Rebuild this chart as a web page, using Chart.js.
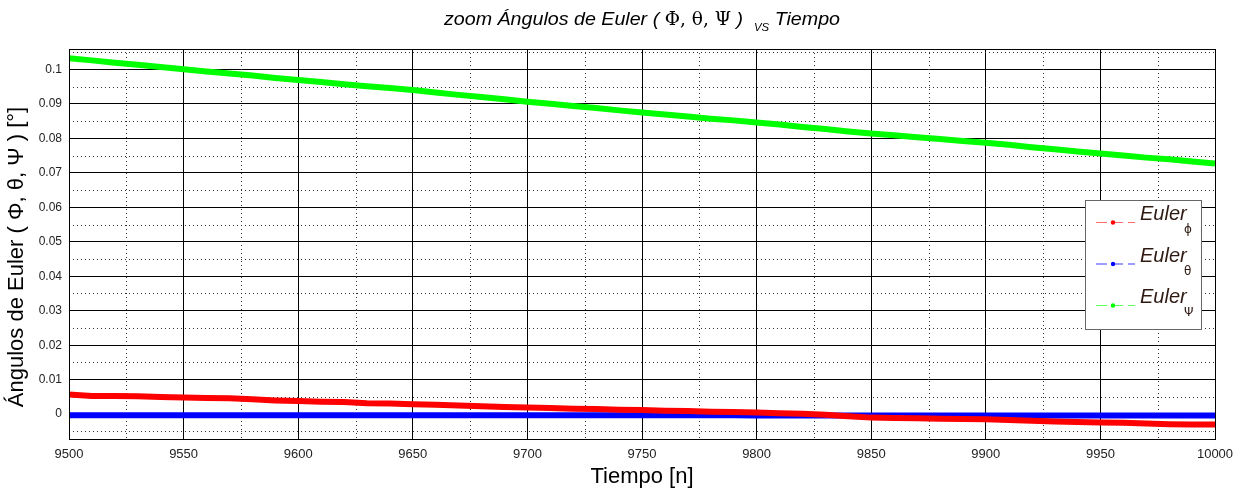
<!DOCTYPE html>
<html>
<head>
<meta charset="utf-8">
<script src="https://cdn.jsdelivr.net/npm/chart.js@4.4.0/dist/chart.umd.min.js"></script>
<style>
  html, body { margin: 0; padding: 0; background: #fff; }
  #wrap { width: 1247px; height: 498px; }
</style>
</head>
<body>
<div id="wrap"><canvas id="euler-chart" width="1247" height="498"></canvas></div>
<script>
// samples every 10 steps
const timeSteps = [9500, 9510, 9520, 9530, 9540, 9550, 9560, 9570, 9580, 9590,
    9600, 9610, 9620, 9630, 9640, 9650, 9660, 9670, 9680, 9690,
    9700, 9710, 9720, 9730, 9740, 9750, 9760, 9770, 9780, 9790,
    9800, 9810, 9820, 9830, 9840, 9850, 9860, 9870, 9880, 9890,
    9900, 9910, 9920, 9930, 9940, 9950, 9960, 9970, 9980, 9990, 10000];

const eulerPhi = [0.0057, 0.0053, 0.0053, 0.0052, 0.0050, 0.0048, 0.0047, 0.0046, 0.0043, 0.0040,
    0.0038, 0.0036, 0.0035, 0.0032, 0.0031, 0.0029, 0.0027, 0.0025, 0.0023, 0.0021,
    0.0019, 0.0018, 0.0016, 0.0015, 0.0013, 0.0012, 0.0010, 0.0009, 0.0007, 0.0006,
    0.0005, 0.0003, 0.0001, -0.0002, -0.0006, -0.0010, -0.0011, -0.0012, -0.0013, -0.0014,
    -0.0015, -0.0017, -0.0019, -0.0021, -0.0023, -0.0024, -0.0025, -0.0027, -0.0029, -0.0030, -0.0030];

const eulerTheta = [-0.0003, -0.0003, -0.0003, -0.0003, -0.0003, -0.0003, -0.0003, -0.0003, -0.0003, -0.0003,
    -0.0003, -0.0003, -0.0003, -0.0003, -0.0003, -0.0003, -0.0003, -0.0003, -0.0003, -0.0003,
    -0.0003, -0.0003, -0.0003, -0.0003, -0.0003, -0.0003, -0.0003, -0.0003, -0.0003, -0.0003,
    -0.0004, -0.0004, -0.0004, -0.0004, -0.0004, -0.0004, -0.0004, -0.0004, -0.0004, -0.0004,
    -0.0004, -0.0004, -0.0004, -0.0004, -0.0004, -0.0004, -0.0004, -0.0004, -0.0004, -0.0004, -0.0004];

const eulerPsi = [0.1032, 0.1026, 0.1019, 0.1013, 0.1007, 0.1000, 0.0994, 0.0988, 0.0982, 0.0975,
    0.0969, 0.0963, 0.0957, 0.0951, 0.0946, 0.0940, 0.0933, 0.0926, 0.0920, 0.0913,
    0.0906, 0.0900, 0.0894, 0.0888, 0.0881, 0.0875, 0.0869, 0.0863, 0.0857, 0.0852,
    0.0846, 0.0840, 0.0833, 0.0827, 0.0820, 0.0814, 0.0809, 0.0803, 0.0798, 0.0792,
    0.0787, 0.0781, 0.0774, 0.0768, 0.0762, 0.0756, 0.0750, 0.0744, 0.0739, 0.0733, 0.0727];

const seriesSubs = ['\u03d5', '\u03b8', '\u03a8'];
const seriesColors = ['#ff0000', '#0000ff', '#00ff00'];
const legendLineColors = ['#ff6a6a', '#3a3aff', '#5cff5c'];

function toPoints(values) {
    return timeSteps.map((t, i) => ({ x: t, y: values[i] }));
}

// dotted minor grid, box border, title, axis labels and legend
const matlabLook = {
    id: 'matlabLook',
    beforeDatasetsDraw(chart) {
        const ctx = chart.ctx;
        const xs = chart.scales.x;
        const ys = chart.scales.y;
        const area = chart.chartArea;
        ctx.save();
        ctx.strokeStyle = '#333';
        ctx.lineWidth = 1;
        ctx.setLineDash([1, 3]);
        for (let v = xs.min + 25; v < xs.max; v += 50) {
            const px = Math.round(xs.getPixelForValue(v)) + 0.5;
            ctx.beginPath();
            ctx.moveTo(px, area.top);
            ctx.lineTo(px, area.bottom);
            ctx.stroke();
        }
        for (let k = -1; k <= 21; k += 2) {
            const v = k * 0.005;
            if (v < ys.min || v > ys.max) continue;
            const py = Math.round(ys.getPixelForValue(v)) + 0.5;
            ctx.beginPath();
            ctx.moveTo(area.left, py);
            ctx.lineTo(area.right, py);
            ctx.stroke();
        }
        ctx.restore();
    },
    afterDraw(chart) {
        const ctx = chart.ctx;
        const area = chart.chartArea;
        ctx.save();
        ctx.strokeStyle = '#000';
        ctx.lineWidth = 1;
        ctx.strokeRect(Math.round(area.left) + 0.5, Math.round(area.top) + 0.5,
            Math.round(area.right - area.left), Math.round(area.bottom - area.top));

        // title
        const cx = (area.left + area.right) / 2;
        const parts = [
            { t: 'zoom \u00c1ngulos de Euler ( ', f: 'italic 19px "Liberation Sans Narrow", "Liberation Sans"', dy: 0 },
            { t: '\u03a6, \u03b8, \u03a8', f: '18px "DejaVu Serif"', dy: 0 },
            { t: ' )  ', f: 'italic 19px "Liberation Sans Narrow", "Liberation Sans"', dy: 0 },
            { t: 'VS', f: 'italic 11px "Liberation Sans Narrow", "Liberation Sans"', dy: 6 },
            { t: ' Tiempo', f: 'italic 19px "Liberation Sans Narrow", "Liberation Sans"', dy: 0 }
        ];
        let total = 0;
        parts.forEach(p => { ctx.font = p.f; p.w = ctx.measureText(p.t).width; total += p.w; });
        const sx = 396 / total;
        ctx.fillStyle = '#000';
        ctx.textBaseline = 'alphabetic';
        ctx.textAlign = 'left';
        ctx.save();
        ctx.translate(cx - 198, 25);
        ctx.scale(sx, 1);
        let x = 0;
        parts.forEach(p => { ctx.font = p.f; ctx.fillText(p.t, x, p.dy); x += p.w; });
        ctx.restore();

        // axis labels
        ctx.font = '22px "Liberation Sans"';
        ctx.textAlign = 'center';
        ctx.textBaseline = 'middle';
        ctx.fillText('Tiempo [n]', cx, 477);
        ctx.save();
        ctx.translate(17, 257);
        ctx.rotate(-Math.PI / 2);
        ctx.fillText('\u00c1ngulos de Euler ( \u03a6, \u03b8, \u03a8 ) [\u00b0]', 0, 0);
        ctx.restore();

        // legend box
        const lx = 1085, ly = 200, lw = 116, lh = 129;
        ctx.fillStyle = '#fff';
        ctx.fillRect(lx, ly, lw, lh);
        ctx.strokeStyle = '#666';
        ctx.strokeRect(lx + 0.5, ly + 0.5, lw, lh);
        chart.data.datasets.forEach((ds, i) => {
            const y = ly + 22 + i * 41.5;
            ctx.strokeStyle = legendLineColors[i];
            ctx.lineWidth = 1;
            ctx.setLineDash([11, 5]);
            ctx.beginPath();
            ctx.moveTo(1096, y + 0.5);
            ctx.lineTo(1135, y + 0.5);
            ctx.stroke();
            ctx.setLineDash([]);
            ctx.fillStyle = seriesColors[i];
            ctx.beginPath();
            ctx.arc(1113, y + 0.5, 2.2, 0, Math.PI * 2);
            ctx.fill();
            ctx.fillStyle = '#2e1a12';
            ctx.textAlign = 'left';
            ctx.textBaseline = 'alphabetic';
            ctx.font = 'italic 20px "Liberation Sans"';
            ctx.fillText('Euler', 1140, y - 2);
            ctx.font = '12px "DejaVu Sans"';
            ctx.fillText(seriesSubs[i], 1184, y + 11);
        });
        ctx.restore();
    }
};

const ctx = document.getElementById('euler-chart').getContext('2d');
new Chart(ctx, {
    type: 'line',
    data: {
        datasets: [
            { label: 'Euler \u03d5', data: toPoints(eulerPhi), borderColor: seriesColors[0] },
            { label: 'Euler \u03b8', data: toPoints(eulerTheta), borderColor: seriesColors[1] },
            { label: 'Euler \u03a8', data: toPoints(eulerPsi), borderColor: seriesColors[2] }
        ]
    },
    options: {
        responsive: false,
        animation: false,
        layout: { padding: { top: 49, right: 32, left: 0, bottom: 0 } },
        elements: {
            line: { borderWidth: 6, tension: 0 },
            point: { radius: 0 }
        },
        plugins: {
            legend: { display: false },
            title: { display: false },
            tooltip: { enabled: false }
        },
        scales: {
            x: {
                type: 'linear',
                min: 9500,
                max: 10000,
                afterFit(scale) { scale.height = 59; },
                ticks: {
                    stepSize: 50,
                    padding: 8,
                    color: '#222',
                    font: { family: 'Liberation Sans', size: 13 },
                    maxRotation: 0,
                    callback: v => String(v)
                },
                grid: { color: '#000', lineWidth: 1, drawTicks: false },
                border: { color: '#000' }
            },
            y: {
                min: -0.0072,
                max: 0.1059,
                afterFit(scale) { scale.width = 69; },
                ticks: {
                    stepSize: 0.01,
                    includeBounds: false,
                    padding: 7,
                    color: '#222',
                    font: { family: 'Liberation Sans', size: 12 },
                    callback: v => String(Math.round(v * 100) / 100)
                },
                grid: { color: '#000', lineWidth: 1, drawTicks: false },
                border: { color: '#000' }
            }
        }
    },
    plugins: [matlabLook]
});
</script>
</body>
</html>
